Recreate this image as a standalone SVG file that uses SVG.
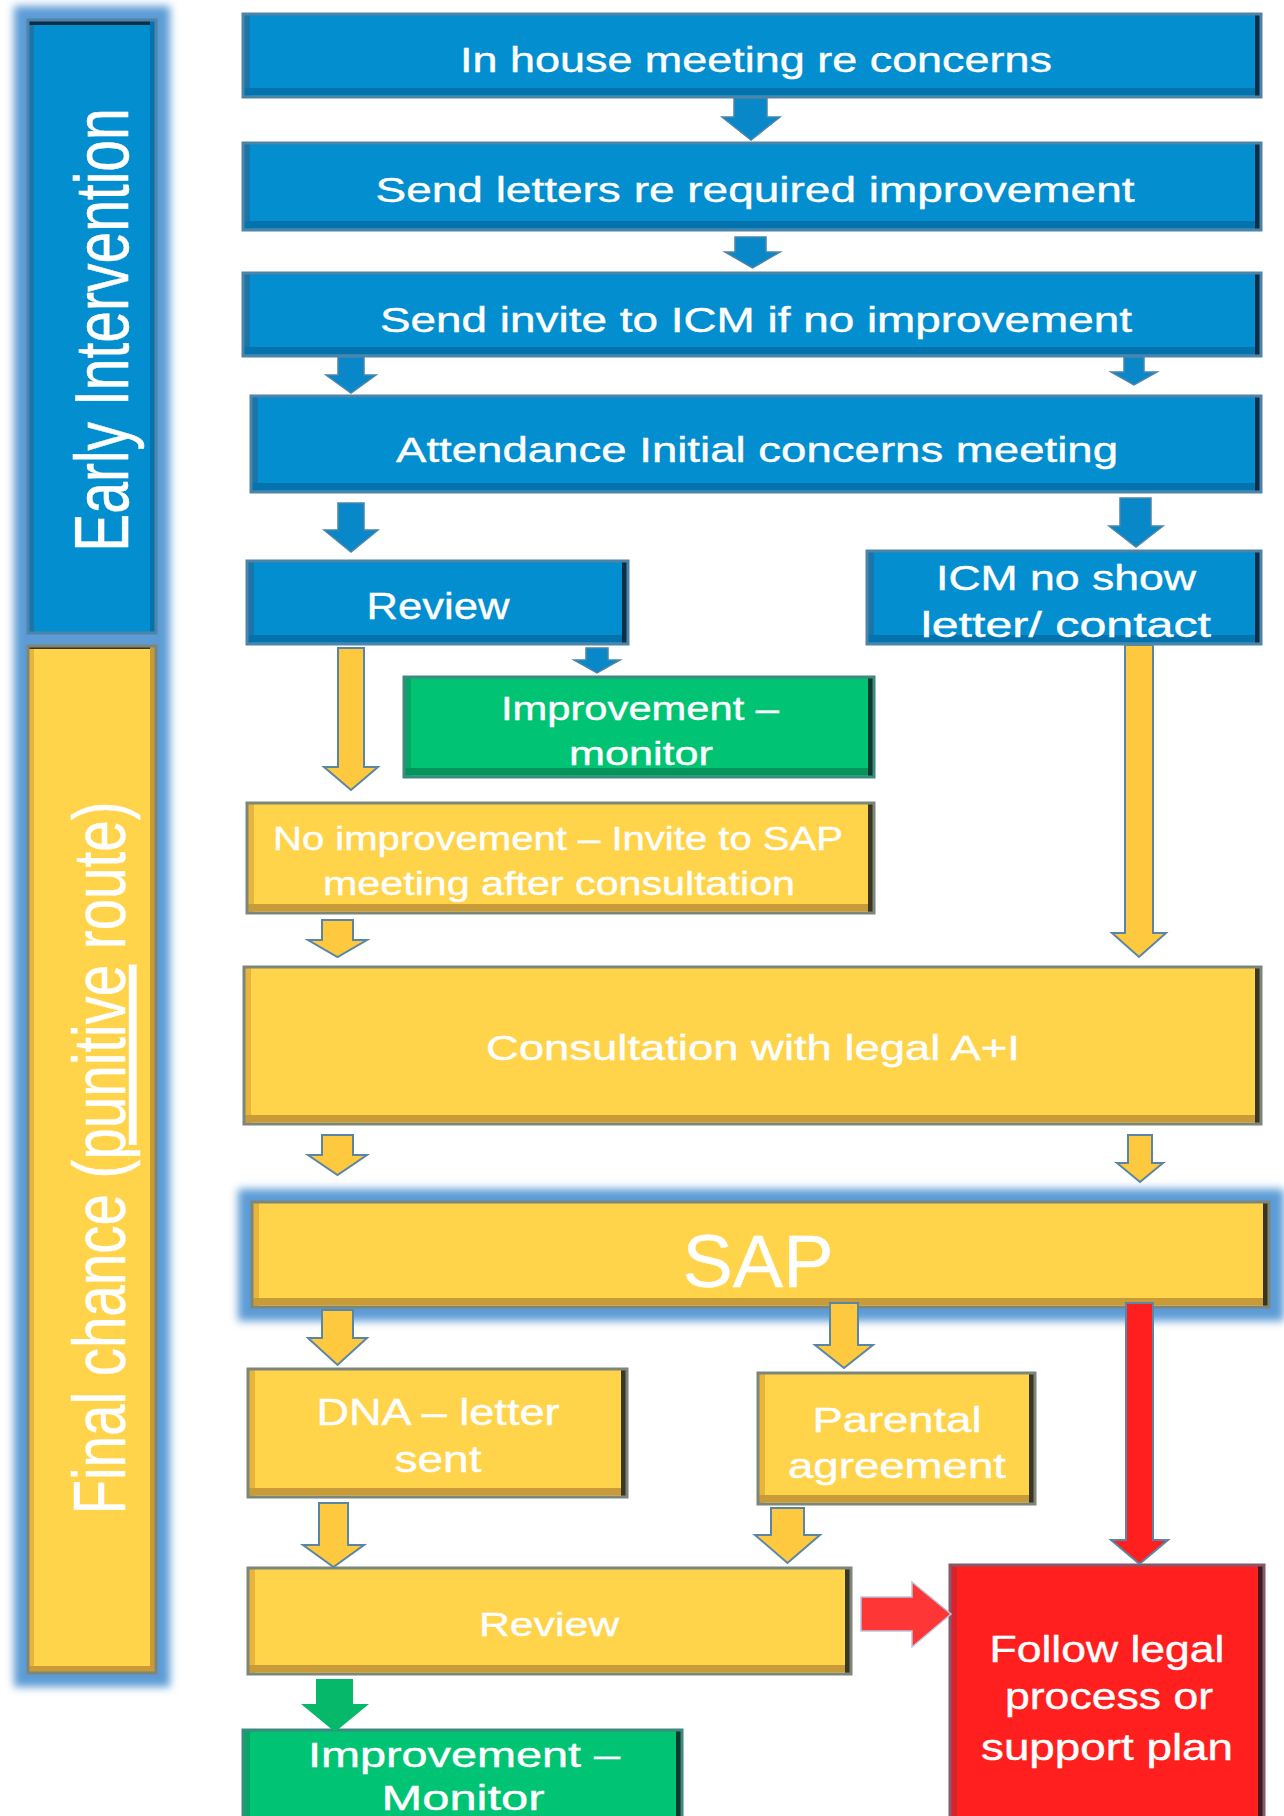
<svg xmlns="http://www.w3.org/2000/svg" width="1284" height="1816" viewBox="0 0 1284 1816">
<defs>
<filter id="glow" x="-30%" y="-30%" width="160%" height="160%"><feGaussianBlur stdDeviation="4"/></filter>
<style>
.t{font-family:"Liberation Sans",Arial,sans-serif;fill:#ffffff;text-anchor:middle;stroke:#ffffff;stroke-width:0.4}
.o{fill:none;stroke-width:3}
.blue .f{fill:#038ecf}.blue .l{fill:#1a75aa}.blue .b{fill:#0472ad}.blue .d{fill:#0d2d47}.blue .o{stroke:#4d84a8}
.yel .f{fill:#ffd44b}.yel .l{fill:#e9b43c}.yel .b{fill:#c99a38}.yel .d{fill:#3b3526}.yel .o{stroke:#7c8779}
.grn .f{fill:#00c474}.grn .l{fill:#06a766}.grn .b{fill:#03935b}.grn .d{fill:#0b3a2d}.grn .o{stroke:#3d8a80}
.red .f{fill:#ff1f1f}.red .l{fill:#d9232c}.red .b{fill:#d41c1c}.red .d{fill:#3d1a20}.red .o{stroke:#86586a}
.gl{fill:#5b9bd5}
.ab{fill:#0888c9;stroke:#4d84a8;stroke-width:1.5}
.ay{fill:#fec83f;stroke:#5a86a6;stroke-width:2}
.ar{fill:#ff1f1f;stroke:#5a86a6;stroke-width:2}
.ar2{fill:#ff3636;stroke:#b8c8d8;stroke-width:1.5}
.ag{fill:#06b86a}
</style>
</defs>
<rect width="1284" height="1816" fill="#ffffff"/>

<!-- sidebar glow -->
<rect class="gl" x="14" y="6" width="156" height="1681" filter="url(#glow)"/>

<g id="lane-early" class="blue">
<rect class="f" x="28" y="20" width="128" height="613"/>
<rect class="l" x="28" y="20" width="6" height="613"/>
<rect class="d" x="28" y="20" width="128" height="5"/>
<rect class="b" x="150" y="20" width="6" height="613"/>
<rect class="o" x="28" y="20" width="128" height="613"/>
<text class="t" font-size="57" transform="translate(128,330) rotate(-90) scale(1,1.33)">Early Intervention</text>
</g>

<g id="lane-final" class="yel">
<rect class="f" x="28" y="646" width="128" height="1027"/>
<rect class="l" x="28" y="646" width="6" height="1027"/>
<rect class="d" x="28" y="646" width="128" height="3"/>
<rect class="b" x="150" y="646" width="6" height="1027"/>
<rect class="b" x="28" y="1666" width="128" height="7"/>
<rect class="o" x="28" y="646" width="128" height="1027"/>
<text class="t" font-size="74" transform="translate(125,1158) rotate(-90)" textLength="713" lengthAdjust="spacingAndGlyphs">Final chance (<tspan text-decoration="underline">punitive</tspan> route)</text>
</g>

<g id="n-inhouse" class="blue">
<rect class="f" x="243" y="14" width="1018" height="83"/>
<rect class="l" x="243" y="14" width="7" height="83"/>
<rect class="b" x="243" y="88" width="1018" height="7"/>
<rect class="d" x="1255" y="14" width="6" height="83"/>
<rect class="o" x="243" y="14" width="1018" height="83"/>
<text class="t" x="756" y="72" font-size="35" textLength="592" lengthAdjust="spacingAndGlyphs">In house meeting re concerns</text>
</g>

<g id="n-letters" class="blue">
<rect class="f" x="243" y="143" width="1018" height="87"/>
<rect class="l" x="243" y="143" width="7" height="87"/>
<rect class="b" x="243" y="221" width="1018" height="7"/>
<rect class="d" x="1255" y="143" width="6" height="87"/>
<rect class="o" x="243" y="143" width="1018" height="87"/>
<text class="t" x="755" y="202" font-size="35" textLength="759" lengthAdjust="spacingAndGlyphs">Send letters re required improvement</text>
</g>

<g id="n-invite" class="blue">
<rect class="f" x="243" y="273" width="1018" height="83"/>
<rect class="l" x="243" y="273" width="7" height="83"/>
<rect class="b" x="243" y="347" width="1018" height="7"/>
<rect class="d" x="1255" y="273" width="6" height="83"/>
<rect class="o" x="243" y="273" width="1018" height="83"/>
<text class="t" x="756" y="332" font-size="35" textLength="752" lengthAdjust="spacingAndGlyphs">Send invite to ICM if no improvement</text>
</g>

<g id="n-attendance" class="blue">
<rect class="f" x="251" y="396" width="1010" height="96"/>
<rect class="l" x="251" y="396" width="7" height="96"/>
<rect class="b" x="251" y="483" width="1010" height="7"/>
<rect class="d" x="1255" y="396" width="6" height="96"/>
<rect class="o" x="251" y="396" width="1010" height="96"/>
<text class="t" x="757" y="462" font-size="35" textLength="722" lengthAdjust="spacingAndGlyphs">Attendance Initial concerns meeting</text>
</g>

<g id="n-review1" class="blue">
<rect class="f" x="247" y="561" width="381" height="83"/>
<rect class="l" x="247" y="561" width="7" height="83"/>
<rect class="b" x="247" y="635" width="381" height="7"/>
<rect class="d" x="622" y="561" width="6" height="83"/>
<rect class="o" x="247" y="561" width="381" height="83"/>
<text class="t" x="438" y="619" font-size="36" textLength="143" lengthAdjust="spacingAndGlyphs">Review</text>
</g>

<g id="n-icm" class="blue">
<rect class="f" x="867" y="551" width="394" height="93"/>
<rect class="l" x="867" y="551" width="7" height="93"/>
<rect class="b" x="867" y="635" width="394" height="7"/>
<rect class="d" x="1255" y="551" width="6" height="93"/>
<rect class="o" x="867" y="551" width="394" height="93"/>
<text class="t" x="1066" y="590" font-size="35" textLength="260" lengthAdjust="spacingAndGlyphs">ICM no show</text>
<text class="t" x="1066" y="637" font-size="35" textLength="290" lengthAdjust="spacingAndGlyphs">letter/ contact</text>
</g>

<g id="n-improve1" class="grn">
<rect class="f" x="404" y="677" width="470" height="100"/>
<rect class="l" x="404" y="677" width="7" height="100"/>
<rect class="b" x="404" y="768" width="470" height="7"/>
<rect class="d" x="868" y="677" width="6" height="100"/>
<rect class="o" x="404" y="677" width="470" height="100"/>
<text class="t" x="640" y="720" font-size="33" textLength="278" lengthAdjust="spacingAndGlyphs">Improvement –</text>
<text class="t" x="641" y="765" font-size="33" textLength="144" lengthAdjust="spacingAndGlyphs">monitor</text>
</g>

<g id="n-noimprove" class="yel">
<rect class="f" x="247" y="803" width="627" height="110"/>
<rect class="l" x="247" y="803" width="7" height="110"/>
<rect class="b" x="247" y="904" width="627" height="7"/>
<rect class="d" x="868" y="803" width="6" height="110"/>
<rect class="o" x="247" y="803" width="627" height="110"/>
<text class="t" x="558" y="850" font-size="33" textLength="570" lengthAdjust="spacingAndGlyphs">No improvement – Invite to SAP</text>
<text class="t" x="559" y="895" font-size="33" textLength="472" lengthAdjust="spacingAndGlyphs">meeting after consultation</text>
</g>

<g id="n-consult" class="yel">
<rect class="f" x="244" y="967" width="1017" height="157"/>
<rect class="l" x="244" y="967" width="7" height="157"/>
<rect class="b" x="244" y="1115" width="1017" height="7"/>
<rect class="d" x="1255" y="967" width="6" height="157"/>
<rect class="o" x="244" y="967" width="1017" height="157"/>
<text class="t" x="753" y="1060" font-size="35" textLength="534" lengthAdjust="spacingAndGlyphs">Consultation with legal A+I</text>
</g>

<g id="n-sap" class="yel">
<rect class="gl" x="238" y="1189" width="1046" height="132" filter="url(#glow)"/>
<rect class="f" x="252" y="1202" width="1017" height="105"/>
<rect class="l" x="252" y="1202" width="7" height="105"/>
<rect class="b" x="252" y="1298" width="1017" height="7"/>
<rect class="d" x="1263" y="1202" width="6" height="105"/>
<rect class="o" x="252" y="1202" width="1017" height="105"/>
<text class="t" x="758" y="1287" font-size="75" textLength="151" lengthAdjust="spacingAndGlyphs">SAP</text>
</g>

<g id="n-dna" class="yel">
<rect class="f" x="248" y="1369" width="379" height="128"/>
<rect class="l" x="248" y="1369" width="7" height="128"/>
<rect class="b" x="248" y="1488" width="379" height="7"/>
<rect class="d" x="621" y="1369" width="6" height="128"/>
<rect class="o" x="248" y="1369" width="379" height="128"/>
<text class="t" x="438" y="1425" font-size="36" textLength="243" lengthAdjust="spacingAndGlyphs">DNA – letter</text>
<text class="t" x="438" y="1472" font-size="36" textLength="87" lengthAdjust="spacingAndGlyphs">sent</text>
</g>

<g id="n-parental" class="yel">
<rect class="f" x="758" y="1373" width="277" height="131"/>
<rect class="l" x="758" y="1373" width="7" height="131"/>
<rect class="b" x="758" y="1495" width="277" height="7"/>
<rect class="d" x="1029" y="1373" width="6" height="131"/>
<rect class="o" x="758" y="1373" width="277" height="131"/>
<text class="t" x="897" y="1432" font-size="35" textLength="169" lengthAdjust="spacingAndGlyphs">Parental</text>
<text class="t" x="897" y="1478" font-size="35" textLength="218" lengthAdjust="spacingAndGlyphs">agreement</text>
</g>

<g id="n-review2" class="yel">
<rect class="f" x="248" y="1568" width="603" height="106"/>
<rect class="l" x="248" y="1568" width="7" height="106"/>
<rect class="b" x="248" y="1665" width="603" height="7"/>
<rect class="d" x="845" y="1568" width="6" height="106"/>
<rect class="o" x="248" y="1568" width="603" height="106"/>
<text class="t" x="549" y="1636" font-size="34" textLength="140" lengthAdjust="spacingAndGlyphs">Review</text>
</g>

<g id="n-improve2" class="grn">
<rect class="f" x="243" y="1730" width="439" height="100"/>
<rect class="l" x="243" y="1730" width="7" height="100"/>
<rect class="d" x="676" y="1730" width="6" height="100"/>
<rect class="o" x="243" y="1730" width="439" height="100"/>
<text class="t" x="464" y="1767" font-size="35" textLength="312" lengthAdjust="spacingAndGlyphs">Improvement –</text>
<text class="t" x="463" y="1810" font-size="35" textLength="163" lengthAdjust="spacingAndGlyphs">Monitor</text>
</g>

<g id="n-legal" class="red">
<rect class="f" x="950" y="1565" width="314" height="265"/>
<rect class="l" x="950" y="1565" width="7" height="265"/>
<rect class="d" x="1258" y="1565" width="6" height="265"/>
<rect class="o" x="950" y="1565" width="314" height="265"/>
<text class="t" x="1107" y="1662" font-size="37" textLength="235" lengthAdjust="spacingAndGlyphs">Follow legal</text>
<text class="t" x="1109" y="1709" font-size="37" textLength="208" lengthAdjust="spacingAndGlyphs">process or</text>
<text class="t" x="1107" y="1760" font-size="37" textLength="252" lengthAdjust="spacingAndGlyphs">support plan</text>
</g>

<g id="connectors">
<polygon class="ab" points="734,98 767,98 767,117 780,117 751,140 722,117 734,117"/>
<polygon class="ab" points="735,237 766,237 766,252 780,252 752.5,268 725,252 735,252"/>
<polygon class="ab" points="338,357 364,357 364,375 376,375 351,393 326,375 338,375"/>
<polygon class="ab" points="1124,357 1144,357 1144,372 1157,372 1134,385 1111,372 1124,372"/>
<polygon class="ab" points="338,503 364,503 364,530 378,530 351,552 324,530 338,530"/>
<polygon class="ab" points="1120,498 1151,498 1151,526 1163,526 1136,547 1109,526 1120,526"/>
<polygon class="ab" points="586,648 608,648 608,660 620,660 597,673 574,660 586,660"/>
<polygon class="ay" points="338,648 364,648 364,767 378,767 351,790 324,767 338,767"/>
<polygon class="ay" points="1125,645 1153,645 1153,933 1166,933 1139,957 1112,933 1125,933"/>
<polygon class="ay" points="322,920 353,920 353,940 367,940 337.5,957 308,940 322,940"/>
<polygon class="ay" points="322,1135 353,1135 353,1155 367,1155 337.5,1175 308,1155 322,1155"/>
<polygon class="ay" points="1128,1135 1152,1135 1152,1163 1163,1163 1140,1182 1117,1163 1128,1163"/>
<polygon class="ay" points="322,1310 353,1310 353,1338 367,1338 337.5,1365 308,1338 322,1338"/>
<polygon class="ay" points="830,1303 858,1303 858,1345 873,1345 844,1368 815,1345 830,1345"/>
<polygon class="ar" points="1126,1303 1153,1303 1153,1540 1168,1540 1139.5,1564 1111,1540 1126,1540"/>
<polygon class="ay" points="319,1503 348,1503 348,1545 364,1545 333.5,1567 303,1545 319,1545"/>
<polygon class="ay" points="771,1508 804,1508 804,1535 820,1535 787.5,1563 755,1535 771,1535"/>
<polygon class="ar2" points="861,1597 912,1597 912,1582 951,1614 912,1647 912,1631 861,1631"/>
<polygon class="ag" points="316,1679 353,1679 353,1704 369,1704 335,1732 301,1704 316,1704"/>
</g>
</svg>
